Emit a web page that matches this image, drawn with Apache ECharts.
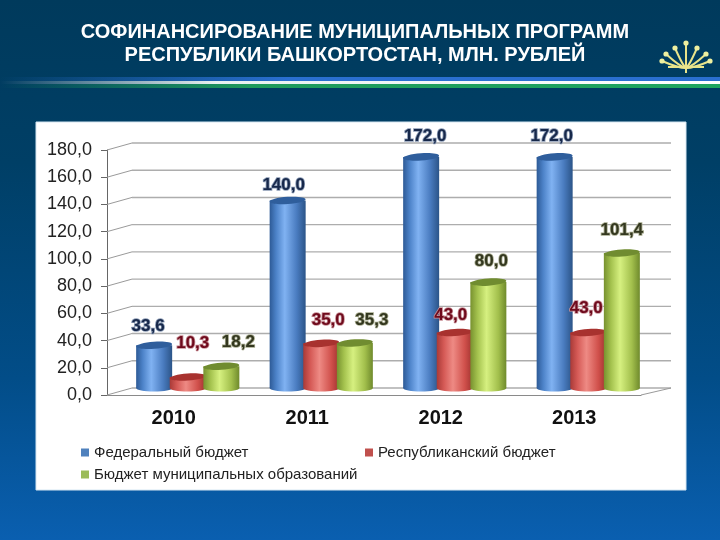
<!DOCTYPE html>
<html>
<head>
<meta charset="utf-8">
<style>html,body{margin:0;padding:0;background:#003a5c}#chart{width:720px;height:540px}</style>
<script src="https://cdn.jsdelivr.net/npm/echarts@6/dist/echarts.min.js"></script>
</head>
<body>
<div id="chart"></div>
<script>
// данные диаграммы
var years = ['2010', '2011', '2012', '2013'];
var federal = [33.6, 140.0, 172.0, 172.0];
var republic = [10.3, 35.0, 43.0, 43.0];
var municipal = [18.2, 35.3, 80.0, 101.4];
var gridValues = [0, 20, 40, 60, 80, 100, 120, 140, 160, 180];

var names = ['Федеральный бюджет', 'Республиканский бюджет', 'Бюджет муниципальных образований'];

// сдвиг подписей относительно верха столбца [dx, dy] по годам
var federalNudge = [[-6, -19], [-4, -15], [4, -21], [-3, -21]];
var republicNudge = [[5, -34], [7, -23], [-4, -17], [-2, -24]];
var municipalNudge = [[17, -24], [17, -23], [3, -21], [0, -23]];

var font = '"Liberation Sans", Arial, sans-serif';
var barWidth = 36;
var slotStep = 33.6;
var depthX = 14;
var lift = 4;

function fmt(v) {
    return v.toFixed(1).replace('.', ',');
}

function hGrad(stops) {
    return {
        type: 'linear', x: 0, y: 0, x2: 1, y2: 0,
        colorStops: stops.map(function (s) { return { offset: s[0], color: s[1] }; })
    };
}

// цилиндр рисуется через координаты осей
function cylinder(slot, look, nudge) {
    return function (params, api) {
        var top = api.coord([api.value(0), api.value(1)]);
        var base = api.coord([api.value(0), 0]);
        var cx = top[0] + depthX + slot * slotStep;
        var rx = barWidth / 2;
        var ry = 3.6;
        var topY = top[1] - lift;
        var baseY = base[1] - lift - 3;
        var n = nudge[params.dataIndex];
        return {
            type: 'group',
            children: [
                { type: 'ellipse', shape: { cx: cx, cy: baseY, rx: rx, ry: ry }, style: { fill: look.body } },
                { type: 'rect', shape: { x: cx - rx, y: topY, width: barWidth, height: baseY - topY }, style: { fill: look.body } },
                { type: 'ellipse', shape: { cx: cx, cy: topY, rx: rx, ry: ry }, rotation: 0.07, originX: cx, originY: topY, style: { fill: look.cap } },
                {
                    type: 'text', z2: 50,
                    style: {
                        x: cx + n[0], y: topY + n[1], text: fmt(api.value(1)),
                        align: 'center', verticalAlign: 'middle',
                        font: 'bold 17px ' + font,
                        fill: look.label, stroke: look.halo, lineWidth: 1.6
                    }
                }
            ]
        };
    };
}

function makeSeries(name, values, slot, look, nudge) {
    return {
        name: name,
        type: 'custom',
        z: 5,
        clip: false,
        itemStyle: { color: look.legend },
        encode: { x: 0, y: 1 },
        data: values.map(function (v, i) { return [i, v]; }),
        renderItem: cylinder(slot, look, nudge)
    };
}

var blueLook = {
    legend: '#4f81bd', cap: '#2f5e9c', label: '#17284a', halo: '#8b9bb5',
    body: hGrad([[0, '#2d5a96'], [0.18, '#4c82c8'], [0.42, '#80b2f2'], [0.75, '#4a7cc0'], [1, '#2b5488']])
};
var redLook = {
    legend: '#c0504d', cap: '#a8322f', label: '#6e0a1c', halo: '#c88f96',
    body: hGrad([[0, '#a93a37'], [0.2, '#d55a56'], [0.45, '#ee8a84'], [0.78, '#d0504b'], [1, '#a0322f']])
};
var greenLook = {
    legend: '#9bbb59', cap: '#708c30', label: '#33371f', halo: '#a7aa8e',
    body: hGrad([[0, '#77912f'], [0.2, '#a4c24e'], [0.45, '#d6f080'], [0.78, '#a2bf4c'], [1, '#6f8a2c']])
};

var chart = echarts.init(document.getElementById('chart'));

var option = {
    animation: false,
    backgroundColor: {
        type: 'linear', x: 0, y: 0, x2: 0, y2: 1,
        colorStops: [
            { offset: 0, color: '#003a5c' },
            { offset: 0.3, color: '#003f66' },
            { offset: 0.7, color: '#024d88' },
            { offset: 1, color: '#0a5fb0' }
        ]
    },
    title: {
        text: 'СОФИНАНСИРОВАНИЕ МУНИЦИПАЛЬНЫХ ПРОГРАММ\nРЕСПУБЛИКИ БАШКОРТОСТАН, МЛН. РУБЛЕЙ',
        left: 350, top: 16, textAlign: 'center',
        textStyle: { color: '#fff', fontFamily: font, fontSize: 20, fontWeight: 'bold', lineHeight: 23 }
    },
    // белая панель, полоса флага и эмблема
    graphic: [
        { type: 'rect', shape: { x: 36, y: 122, width: 650, height: 368 }, style: { fill: '#fff', stroke: '#d5e6f2', lineWidth: 1 } },
        {
            type: 'rect', shape: { x: 0, y: 77, width: 720, height: 4 },
            style: { fill: { type: 'linear', x: 0, y: 0, x2: 1, y2: 0, colorStops: [{ offset: 0, color: 'rgba(40,110,210,0)' }, { offset: 0.4, color: '#2a6fd0' }, { offset: 1, color: '#2a6fd0' }] } }
        },
        {
            type: 'rect', shape: { x: 0, y: 81, width: 720, height: 3 },
            style: { fill: { type: 'linear', x: 0, y: 0, x2: 1, y2: 0, colorStops: [{ offset: 0, color: 'rgba(255,255,255,0)' }, { offset: 0.3, color: '#e8f0f0' }, { offset: 1, color: '#fff' }] } }
        },
        {
            type: 'rect', shape: { x: 0, y: 84, width: 720, height: 4 },
            style: { fill: { type: 'linear', x: 0, y: 0, x2: 1, y2: 0, colorStops: [{ offset: 0, color: 'rgba(30,160,90,0)' }, { offset: 0.35, color: '#1f9a5c' }, { offset: 1, color: '#1fa560' }] } }
        }
    ].concat(flower(686, 70)),
    legend: [
        legendAt(0, 76, 440),
        legendAt(1, 360, 440),
        legendAt(2, 76, 462)
    ],
    grid: { left: 107, right: 79, top: 150, bottom: 145 },
    xAxis: {
        type: 'category',
        data: years,
        axisLine: { lineStyle: { color: '#8a8a8a' } },
        axisTick: { length: 4, lineStyle: { color: '#8a8a8a' } },
        axisLabel: { margin: 13, color: '#111', fontFamily: font, fontSize: 20, fontWeight: 'bold' }
    },
    yAxis: {
        type: 'value',
        min: 0,
        max: 180,
        interval: 20,
        splitLine: { show: false },
        axisLine: { show: true, lineStyle: { color: '#666' } },
        axisTick: { show: true, length: 6, lineStyle: { color: '#666' } },
        axisLabel: {
            margin: 15, color: '#222', fontFamily: font, fontSize: 18,
            formatter: function (v) { return fmt(v); }
        }
    },
    series: [
        {
            // задняя стенка псевдо-3D: линии сетки со скосом
            type: 'custom',
            z: 1,
            silent: true,
            clip: false,
            data: gridValues.map(function (v) { return [0, v]; }),
            encode: { x: 0, y: 1 },
            renderItem: function (params, api) {
                var y = api.coord([0, api.value(1)])[1];
                var left = params.coordSys.x;
                var right = left + params.coordSys.width;
                return {
                    type: 'group',
                    children: [
                        { type: 'line', shape: { x1: left, y1: y, x2: left + 25, y2: y - 7 }, style: { stroke: '#9a9a9a', lineWidth: 1 } },
                        { type: 'line', shape: { x1: left + 25, y1: y - 7, x2: right + 30, y2: y - 7 }, style: { stroke: '#adadad', lineWidth: 1.4 } },
                        api.value(1) === 0
                            ? { type: 'line', shape: { x1: right, y1: y, x2: right + 30, y2: y - 7 }, style: { stroke: '#9a9a9a', lineWidth: 1 } }
                            : { type: 'group', children: [] }
                    ]
                };
            }
        },
        makeSeries(names[0], federal, -1, blueLook, federalNudge),
        makeSeries(names[1], republic, 0, redLook, republicNudge),
        makeSeries(names[2], municipal, 1, greenLook, municipalNudge)
    ]
};

function legendAt(i, x, y) {
    return {
        data: [{ name: names[i], icon: 'rect' }],
        left: x, top: y,
        itemWidth: 8, itemHeight: 8, itemGap: 4,
        selectedMode: false,
        textStyle: { color: '#222', fontFamily: font, fontSize: 15 }
    };
}

// эмблема: цветок курая
function flower(cx, cy) {
    var out = [];
    var rays = [[-24, -9], [-20, -16], [-11, -22], [0, -27], [11, -22], [20, -16], [24, -9]];
    rays.forEach(function (r) {
        out.push({ type: 'bezierCurve', shape: { x1: cx, y1: cy - 2, x2: cx + r[0], y2: cy + r[1], cpx1: cx + r[0] * 0.3, cpy1: cy + r[1] * 0.2 }, style: { stroke: '#e9e48a', lineWidth: 2, fill: 'none' } });
        out.push({ type: 'circle', shape: { cx: cx + r[0], cy: cy + r[1], r: 2.6 }, style: { fill: '#eef0a0' } });
    });
    out.push({ type: 'line', shape: { x1: cx - 18, y1: cy - 3, x2: cx + 18, y2: cy - 3 }, style: { stroke: '#e9e48a', lineWidth: 2 } });
    out.push({ type: 'line', shape: { x1: cx, y1: cy - 8, x2: cx, y2: cy + 3 }, style: { stroke: '#e9e48a', lineWidth: 2 } });
    return out;
}

chart.setOption(option);
</script>
</body>
</html>
